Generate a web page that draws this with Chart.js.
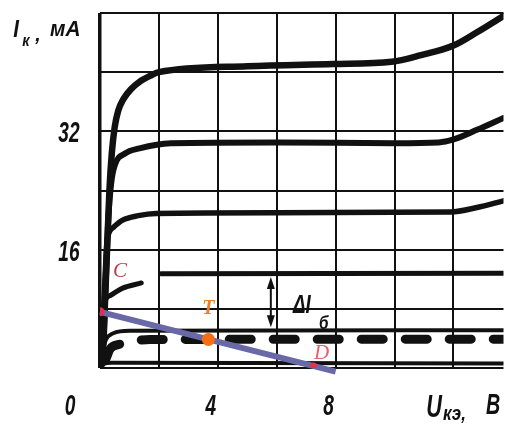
<!DOCTYPE html>
<html><head><meta charset="utf-8">
<script src="https://cdn.jsdelivr.net/npm/chart.js@4/dist/chart.umd.min.js"></script>
<style>html,body{margin:0;padding:0;background:#fff;} canvas{display:block;}</style>
</head><body>
<canvas id="c" width="510" height="427"></canvas>
<script>
// ---- Data (U in V, I in mA) ----
const curve1U = [0.03, 0.1, 0.18, 0.24, 0.32, 0.4, 0.5, 0.62, 0.8, 1.05, 1.34, 1.7, 2.0, 5.0, 7.9, 9.9, 10.9, 12.0, 12.8, 13.7];
const curve1I = [0, 2, 10, 16, 24, 29, 32.6, 34.8, 36.4, 37.7, 38.7, 39.5, 40.0, 40.8, 41.1, 41.4, 42.3, 43.6, 45.4, 47.6];
const curve2U = [0.03, 0.12, 0.2, 0.28, 0.38, 0.5, 0.85, 1.34, 2.4, 6.0, 10.0, 11.5, 12.0, 12.8, 13.7];
const curve2I = [0, 4, 12, 20, 25, 27.4, 29.0, 29.7, 30.4, 30.5, 30.4, 30.5, 30.9, 32.2, 33.8];
const curve3U = [0.03, 0.1, 0.18, 0.24, 0.45, 0.77, 1.3, 1.9, 6.0, 11.9, 12.8, 13.7];
const curve3I = [0, 6, 13, 17.2, 19.0, 20.0, 20.6, 20.9, 21.0, 21.1, 21.7, 22.6];
const curve4U = [0.03, 0.08, 0.12, 0.35, 0.77, 1.4, 1.7, 2.07, 13.7];
const curve4I = [0, 5, 8.2, 9.8, 10.8, 11.5, null, 12.75, 12.8];
const curve5U = [0.02, 0.08, 0.2, 0.45, 1.0, 13.7];
const curve5I = [0, 2.2, 3.8, 4.7, 5.05, 5.1];
const dashedU = [0.2, 0.35, 0.65, 0.95, 1.7, 13.7];
const dashedI = [1.2, 2.6, 3.2, 3.5, 3.85, 3.9];
const bottomU = [0.02, 0.1, 0.4, 13.7];
const bottomI = [0, 0.5, 0.7, 0.6];
const loadU = [0, 8.0];
const loadI = [7.6, -0.5];
const pointC = [0, 7.6];
const pointT = [3.68, 3.87];
const pointD = [7.25, 0.26];
const deltaU = 5.8;              // ΔIб arrow position
const deltaI = [12.7, 5.1];       // ΔIб arrow ends
const xGrid = [0, 2, 4, 6, 8, 10, 12];
const yGrid = [0, 8, 16, 24, 32, 40, 48];
const xTickLabels = ['4', '8'];
const xTickValues = [4, 8];
const yTickLabels = ['16', '32'];
const yTickValues = [16, 32];

const pts = (u, i) => u.map((v, k) => ({x: v, y: i[k]}));
const INK = '#111';

const curve = (u, i, w) => ({
  data: pts(u, i), borderColor: INK, borderWidth: w, pointRadius: 0,
  cubicInterpolationMode: 'monotone', borderCapStyle: 'round', borderJoinStyle: 'round',
  spanGaps: false, fill: false
});

function cText(ctx, txt, x, y, font, sx, align, color) {
  ctx.save();
  ctx.font = font;
  ctx.fillStyle = color || INK;
  ctx.translate(x, y);
  ctx.scale(sx, 1);
  ctx.textAlign = align || 'center';
  ctx.textBaseline = 'alphabetic';
  ctx.fillText(txt, 0, 0);
  ctx.restore();
}

const textPlugin = {
  id: 'texts',
  afterDraw(chart) {
    const ctx = chart.ctx;
    const xs = chart.scales.x, ys = chart.scales.y;
    const NUM = 'italic bold 29px "Liberation Sans", Arial, sans-serif';
    const SX = 0.66;
    // y tick labels
    yTickValues.forEach((v, k) => cText(ctx, yTickLabels[k], 69, ys.getPixelForValue(v) + 11, NUM, SX));
    // x tick labels
    const base = 415;
    cText(ctx, '0', xs.getPixelForValue(0) - 30, base, NUM, SX);
    xTickValues.forEach((v, k) => cText(ctx, xTickLabels[k], xs.getPixelForValue(v) - 7, base, NUM, SX));
    // y title  I_к, мА
    cText(ctx, 'I', 16, 37, 'italic bold 24px "Liberation Sans", sans-serif', 0.85);
    cText(ctx, 'к', 26, 46, 'italic bold 16px "Liberation Sans", sans-serif', 0.9);
    cText(ctx, ',', 38, 41, 'italic bold 20px "Liberation Sans", sans-serif', 1);
    cText(ctx, 'мА', 50, 36, 'italic bold 22px "Liberation Sans", sans-serif', 0.95, 'left');
    // x title  U_кэ, В
    cText(ctx, 'U', 434, 417, 'italic bold 31px "Liberation Sans", sans-serif', 0.7);
    cText(ctx, 'кэ,', 443, 420, 'italic bold 20px "Liberation Sans", sans-serif', 0.85, 'left');
    cText(ctx, 'В', 493, 414, 'italic bold 29px "Liberation Sans", sans-serif', 0.68);
    // ΔIб annotation
    const ax = xs.getPixelForValue(deltaU);
    const a1 = ys.getPixelForValue(deltaI[0]) + 3, a2 = ys.getPixelForValue(deltaI[1]) - 3;
    ctx.save();
    ctx.strokeStyle = INK; ctx.fillStyle = INK; ctx.lineWidth = 2;
    ctx.beginPath(); ctx.moveTo(ax, a1 + 8); ctx.lineTo(ax, a2 - 8); ctx.stroke();
    ctx.beginPath(); ctx.moveTo(ax, a1); ctx.lineTo(ax - 4, a1 + 12); ctx.lineTo(ax + 4, a1 + 12); ctx.closePath(); ctx.fill();
    ctx.beginPath(); ctx.moveTo(ax, a2); ctx.lineTo(ax - 4, a2 - 12); ctx.lineTo(ax + 4, a2 - 12); ctx.closePath(); ctx.fill();
    ctx.restore();
    cText(ctx, 'ΔI', 293, 313, 'italic bold 25px "Liberation Sans", sans-serif', 0.75, 'left');
    cText(ctx, 'б', 319, 329, 'italic bold 18px "Liberation Sans", sans-serif', 0.85, 'left');
    // point labels
    const SER = 'italic 21px "Liberation Serif", serif';
    cText(ctx, 'C', xs.getPixelForValue(pointC[0]) + 20, ys.getPixelForValue(pointC[1]) - 35, SER, 1, 'center', 'rgb(190,60,80)');
    cText(ctx, 'T', xs.getPixelForValue(pointT[0]), ys.getPixelForValue(pointT[1]) - 25, 'italic bold 20px "Liberation Serif", serif', 1, 'center', 'rgb(232,128,40)');
    cText(ctx, 'D', xs.getPixelForValue(pointD[0]) + 8, ys.getPixelForValue(pointD[1]) - 7, SER, 1, 'center', 'rgb(225,100,110)');
  }
};

new Chart(document.getElementById('c'), {
  type: 'line',
  data: {
    datasets: [
      {data: [{x: pointC[0], y: pointC[1]}], showLine: false, pointRadius: 4.5, pointBackgroundColor: 'rgb(220,50,80)', pointBorderWidth: 0},
      {data: [{x: pointT[0], y: pointT[1]}], showLine: false, pointRadius: 6.5, pointBackgroundColor: 'rgb(245,110,20)', pointBorderWidth: 0},
      {data: [{x: pointD[0], y: pointD[1]}], showLine: false, pointRadius: 3.5, pointBackgroundColor: 'rgb(230,50,70)', pointBorderWidth: 0},
      {data: pts(loadU, loadI), borderColor: 'rgb(105,105,168)', borderWidth: 6, pointRadius: 0, clip: false, borderCapStyle: 'butt'},
      curve(curve1U, curve1I, 6.5),
      curve(curve2U, curve2I, 6),
      curve(curve3U, curve3I, 5.5),
      curve(curve4U, curve4I, 5),
      curve(curve5U, curve5I, 4),
      Object.assign(curve(dashedU, dashedI, 9), {borderDash: [22, 22]}),
      curve(bottomU, bottomI, 4)
    ]
  },
  options: {
    responsive: false, animation: false, events: [],
    layout: {padding: {left: 100, top: 13, right: 0, bottom: 59}},
    plugins: {legend: {display: false}, tooltip: {enabled: false}},
    scales: {
      x: {type: 'linear', min: 0, max: 13.7,
        afterBuildTicks: s => { s.ticks = xGrid.map(v => ({value: v})); },
        ticks: {display: false},
        grid: {color: INK, lineWidth: c => (c.tick && c.tick.value === 0) ? 3.5 : 2, drawTicks: false},
        border: {display: false}},
      y: {type: 'linear', min: 0, max: 48,
        afterBuildTicks: s => { s.ticks = yGrid.map(v => ({value: v})); },
        ticks: {display: false},
        grid: {color: INK, lineWidth: 2, drawTicks: false},
        border: {display: false}}
    }
  },
  plugins: [textPlugin]
});
</script>
</body></html>
